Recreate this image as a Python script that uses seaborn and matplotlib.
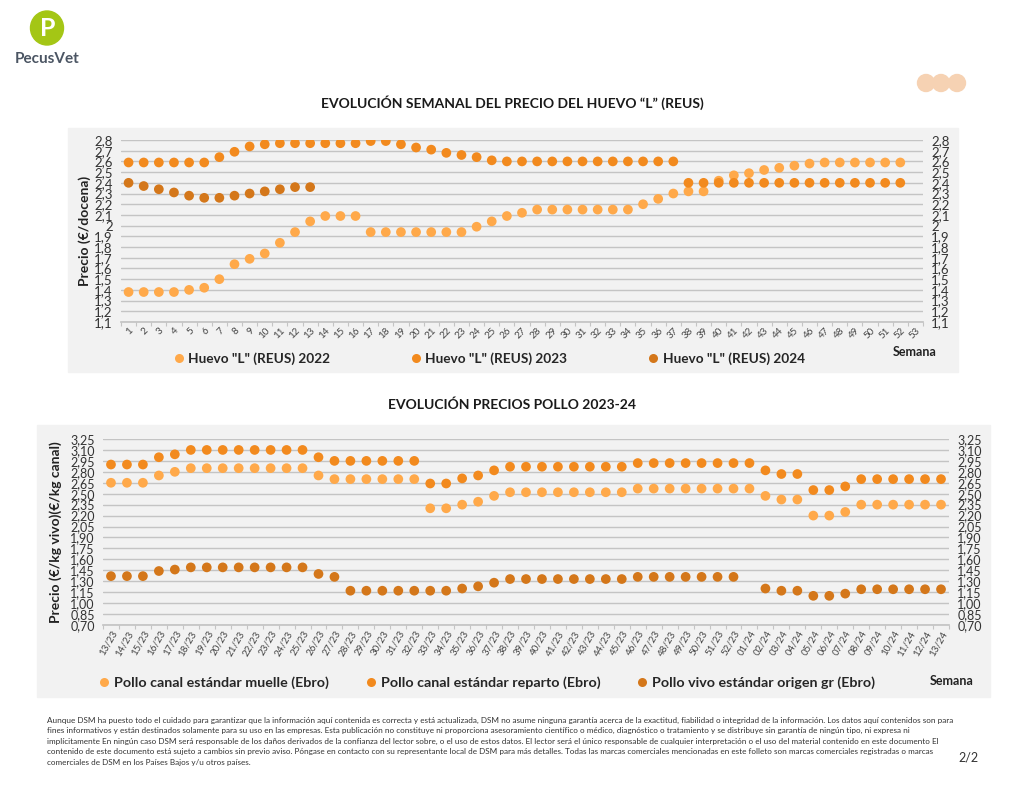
import numpy as np
import pandas as pd
import seaborn as sns
import matplotlib.pyplot as plt
from matplotlib.patches import Rectangle, Ellipse
from matplotlib.lines import Line2D

# colores de las series
c_light = '#FFA94A'
c_mid = '#F28A1E'
c_dark = '#D4771A'
panel_gray = '#F2F2F2'
grid_gray = '#C4C4C4'

# --- datos huevo "L" (REUS) ---
semanas = [str(i) for i in range(1, 54)]
huevo_2022 = [1.38, 1.38, 1.38, 1.38, 1.40, 1.42, 1.50, 1.64, 1.69, 1.74,
              1.84, 1.94, 2.04, 2.09, 2.09, 2.09, 1.94, 1.94, 1.94, 1.94,
              1.94, 1.94, 1.94, 1.99, 2.04, 2.09, 2.12, 2.15, 2.15, 2.15,
              2.15, 2.15, 2.15, 2.15, 2.20, 2.25, 2.30, 2.32, 2.32, 2.42,
              2.47, 2.49, 2.52, 2.54, 2.56, 2.58, 2.59, 2.59, 2.59, 2.59,
              2.59, 2.59, np.nan]
huevo_2023 = [2.59, 2.59, 2.59, 2.59, 2.59, 2.59, 2.64, 2.69, 2.74, 2.76,
              2.77, 2.77, 2.77, 2.77, 2.77, 2.77, 2.79, 2.79, 2.76, 2.73,
              2.71, 2.68, 2.66, 2.64, 2.61, 2.60, 2.60, 2.60, 2.60, 2.60,
              2.60, 2.60, 2.60, 2.60, 2.60, 2.60, 2.60, 2.40, 2.40, 2.40,
              2.40, 2.40, 2.40, 2.40, 2.40, 2.40, 2.40, 2.40, 2.40, 2.40,
              2.40, 2.40, np.nan]
huevo_2024 = [2.40, 2.37, 2.34, 2.31, 2.28, 2.26, 2.26, 2.28, 2.30, 2.32,
              2.34, 2.36, 2.36] + [np.nan] * 40
huevo_series = ['Huevo "L" (REUS) 2022', 'Huevo "L" (REUS) 2023', 'Huevo "L" (REUS) 2024']
huevo_ticks = [1.1, 1.2, 1.3, 1.4, 1.5, 1.6, 1.7, 1.8, 1.9, 2.0, 2.1, 2.2, 2.3, 2.4, 2.5, 2.6, 2.7, 2.8]

# --- datos pollo 2023-24 ---
semanas_pollo = [f'{i}/23' for i in range(13, 53)] + [f'{i:02d}/24' for i in range(1, 14)]
pollo_muelle = [2.65, 2.65, 2.65, 2.75, 2.80, 2.85, 2.85, 2.85, 2.85, 2.85,
                2.85, 2.85, 2.85, 2.75, 2.70, 2.70, 2.70, 2.70, 2.70, 2.70,
                2.30, 2.30, 2.35, 2.39, 2.47, 2.52, 2.52, 2.52, 2.52, 2.52,
                2.52, 2.52, 2.52, 2.57, 2.57, 2.57, 2.57, 2.57, 2.57, 2.57,
                2.57, 2.47, 2.42, 2.42, 2.20, 2.20, 2.25, 2.35, 2.35, 2.35,
                2.35, 2.35, 2.35]
pollo_reparto = [2.90, 2.90, 2.90, 3.00, 3.04, 3.10, 3.10, 3.10, 3.10, 3.10,
                 3.10, 3.10, 3.10, 3.00, 2.95, 2.95, 2.95, 2.95, 2.95, 2.95,
                 2.64, 2.64, 2.71, 2.75, 2.82, 2.87, 2.87, 2.87, 2.87, 2.87,
                 2.87, 2.87, 2.87, 2.92, 2.92, 2.92, 2.92, 2.92, 2.92, 2.92,
                 2.92, 2.82, 2.77, 2.77, 2.55, 2.55, 2.60, 2.70, 2.70, 2.70,
                 2.70, 2.70, 2.70]
pollo_vivo = [1.37, 1.37, 1.37, 1.44, 1.46, 1.49, 1.49, 1.49, 1.49, 1.49,
              1.49, 1.49, 1.49, 1.40, 1.36, 1.17, 1.17, 1.17, 1.17, 1.17,
              1.17, 1.17, 1.20, 1.23, 1.28, 1.33, 1.33, 1.33, 1.33, 1.33,
              1.33, 1.33, 1.33, 1.36, 1.36, 1.36, 1.36, 1.36, 1.36, 1.36,
              np.nan, 1.20, 1.17, 1.17, 1.10, 1.10, 1.13, 1.19, 1.19, 1.19,
              1.19, 1.19, 1.19]
pollo_series = ['Pollo canal estándar muelle (Ebro)', 'Pollo canal estándar reparto (Ebro)',
                'Pollo vivo estándar origen gr (Ebro)']
pollo_ticks = [0.70, 0.85, 1.00, 1.15, 1.30, 1.45, 1.60, 1.75, 1.90, 2.05, 2.20,
               2.35, 2.50, 2.65, 2.80, 2.95, 3.10, 3.25]

disclaimer = [
    'Aunque DSM ha puesto todo el cuidado para garantizar que la información aquí contenida es correcta y está actualizada, DSM no asume ninguna garantía acerca de la exactitud, fiabilidad o integridad de la información. Los datos aquí contenidos son para',
    'fines informativos y están destinados solamente para su uso en las empresas. Esta publicación no constituye ni proporciona asesoramiento científico o médico, diagnóstico o tratamiento y se distribuye sin garantía de ningún tipo, ni expresa ni',
    'implícitamente En ningún caso DSM será responsable de los daños derivados de la confianza del lector sobre, o el uso de estos datos. El lector será el único responsable de cualquier interpretación o el uso del material contenido en este documento El',
    'contenido de este documento está sujeto a cambios sin previo aviso. Póngase en contacto con su representante local de DSM para más detalles. Todas las marcas comerciales mencionadas en este folleto son marcas comerciales registradas o marcas',
    'comerciales de DSM en los Países Bajos y/u otros países.',
]

sns.set_theme(style="white")
plt.rcParams['font.family'] = ['Lato', 'DejaVu Sans']

W, H = 1024, 791


def fx(px):
    return px / W


def fy(py):
    return 1 - py / H


def comma(v, dec=None):
    if dec is None:
        s = f'{v:.1f}'.rstrip('0').rstrip('.')
    else:
        s = f'{v:.{dec}f}'
    return s.replace('.', ',')


def style_axis(ax, ticks, dec, rot, lab_size):
    ax.set_facecolor('none')
    ax.set_ylim(ticks[0], ticks[-1])
    ax.set_yticks(ticks)
    ax.set_yticklabels([comma(t, dec) for t in ticks], fontsize=lab_size, color='#333333')
    ax.grid(axis='y', color=grid_gray, linewidth=1.0)
    ax.grid(axis='x', visible=False)
    ax.set_axisbelow(True)
    for s in ['top', 'left', 'right']:
        ax.spines[s].set_visible(False)
    ax.spines['bottom'].set_color(grid_gray)
    n = len(ax.get_xticks())
    ax.set_xticks(np.arange(-0.5, n, 1.0), minor=True)
    ax.tick_params(axis='x', which='minor', length=3, color=grid_gray, width=0.8, bottom=True)
    ax.tick_params(axis='x', which='major', length=0, pad=3, labelsize=7, labelcolor='#444444')
    ax.tick_params(axis='y', length=0, labelleft=True, labelright=True, pad=6)
    for lab in ax.get_xticklabels():
        lab.set_rotation(rot)
        lab.set_ha('right')
        lab.set_rotation_mode('anchor')
    ax.set_xlabel('')


fig = plt.figure(figsize=(W / 100, H / 100), dpi=100)
fig.patch.set_facecolor('white')

# paneles grises de fondo
fig.add_artist(Rectangle((fx(68), fy(372)), fx(958 - 68), (372 - 128) / H,
                         transform=fig.transFigure, color=panel_gray, zorder=0))
fig.add_artist(Rectangle((fx(37), fy(697)), fx(990 - 37), (697 - 425) / H,
                         transform=fig.transFigure, color=panel_gray, zorder=0))

# --- grafico huevo ---
df_huevo = pd.DataFrame({
    'Semana': semanas * 3,
    'Precio': huevo_2022 + huevo_2023 + huevo_2024,
    'Serie': [huevo_series[0]] * 53 + [huevo_series[1]] * 53 + [huevo_series[2]] * 53,
})
ax1 = fig.add_axes([fx(121), fy(322), fx(923 - 121), (322 - 140) / H])
sns.stripplot(data=df_huevo, x='Semana', y='Precio', hue='Serie', order=semanas,
              hue_order=huevo_series, palette=[c_light, c_mid, c_dark], jitter=False,
              size=7, linewidth=0, legend=False, ax=ax1, zorder=3)
style_axis(ax1, huevo_ticks, None, 45, 9.5)
ax1.set_ylabel('Precio (€/docena)', fontsize=10, fontweight='bold', color='#222222', labelpad=2)

handles1 = [Line2D([], [], marker='o', linestyle='', markersize=6.5, markerfacecolor=c,
                   markeredgewidth=0) for c in [c_light, c_mid, c_dark]]
ax1.legend(handles1, huevo_series, loc='center', bbox_to_anchor=(0.457, -0.2), ncol=3,
           frameon=False, prop={'weight': 'bold', 'size': 9.8}, columnspacing=5.7,
           handletextpad=0.1, handlelength=1.2)
fig.text(fx(915), fy(352), 'Semana', fontsize=9, fontweight='bold', ha='center', va='center',
         color='#222222')

# --- grafico pollo ---
df_pollo = pd.DataFrame({
    'Semana': semanas_pollo * 3,
    'Precio': pollo_muelle + pollo_reparto + pollo_vivo,
    'Serie': [pollo_series[0]] * 53 + [pollo_series[1]] * 53 + [pollo_series[2]] * 53,
})
ax2 = fig.add_axes([fx(103), fy(625), fx(949 - 103), (625 - 439) / H])
sns.stripplot(data=df_pollo, x='Semana', y='Precio', hue='Serie', order=semanas_pollo,
              hue_order=pollo_series, palette=[c_light, c_mid, c_dark], jitter=False,
              size=7, linewidth=0, legend=False, ax=ax2, zorder=3)
style_axis(ax2, pollo_ticks, 2, 60, 9)
ax2.set_ylabel('Precio (€/kg vivo)(€/kg canal)', fontsize=10, fontweight='bold',
               color='#222222', labelpad=6)

handles2 = [Line2D([], [], marker='o', linestyle='', markersize=6.5, markerfacecolor=c,
                   markeredgewidth=0) for c in [c_light, c_mid, c_dark]]
ax2.legend(handles2, pollo_series, loc='center', bbox_to_anchor=(0.452, -0.31), ncol=3,
           frameon=False, prop={'weight': 'bold', 'size': 10.3}, columnspacing=2.3,
           handletextpad=0.1, handlelength=1.2)
fig.text(fx(952), fy(681), 'Semana', fontsize=9, fontweight='bold', ha='center', va='center',
         color='#222222')

# titulos
fig.text(0.5, fy(103), 'EVOLUCIÓN SEMANAL DEL PRECIO DEL HUEVO “L” (REUS)', ha='center',
         va='center', fontsize=10, fontweight='bold', color='#1A1A1A')
fig.text(fx(512), fy(405), 'EVOLUCIÓN PRECIOS POLLO 2023-24', ha='center',
         va='center', fontsize=10, fontweight='bold', color='#1A1A1A')

# cabecera: logo y circulos
fig.add_artist(Ellipse((fx(47), fy(28)), fx(33), 34 / H, transform=fig.transFigure,
                       color='#A4C615', zorder=1))
fig.text(fx(48), fy(28), 'P', ha='center', va='center', fontsize=18, fontweight='bold',
         color='white', zorder=2)
fig.text(fx(47), fy(59), 'PecusVet', ha='center', va='center', fontsize=11, fontweight='bold',
         color='#4B5563')
for cx in [926, 941, 957]:
    fig.add_artist(Ellipse((fx(cx), fy(83)), fx(17), 17 / H, transform=fig.transFigure,
                           color='#F6D2B3', zorder=1))

# pie de pagina
for i, line in enumerate(disclaimer):
    fig.text(fx(47), fy(720 + i * 10.6), line, ha='left', va='center', fontsize=5.85,
             color='#333333')
fig.text(fx(968), fy(758), '2/2', ha='center', va='center', fontsize=9, color='#333333')

fig.savefig('out.png', dpi=100)
